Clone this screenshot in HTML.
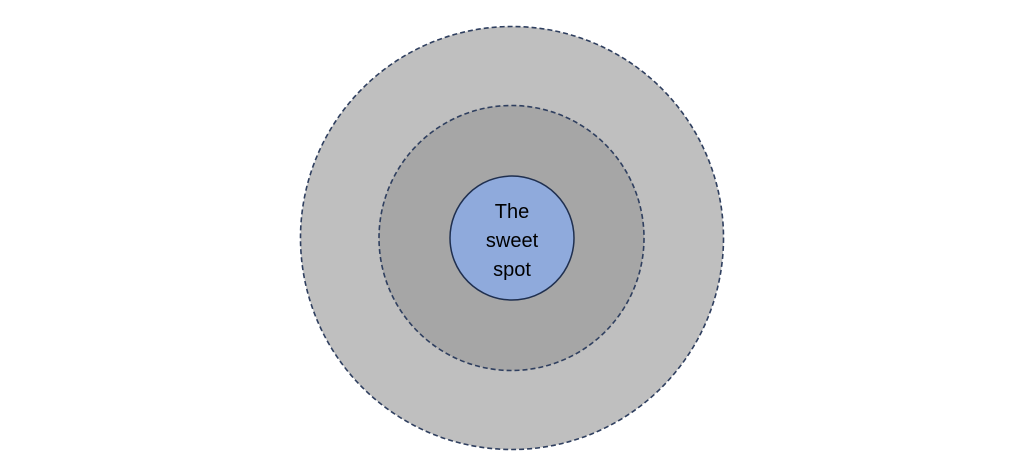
<!DOCTYPE html>
<html><head><style>html,body{margin:0;padding:0;background:#fff;width:1024px;height:473px;overflow:hidden}</style></head>
<body>
<svg width="1024" height="473" viewBox="0 0 1024 473" xmlns="http://www.w3.org/2000/svg">
<circle cx="512" cy="238" r="211.5" fill="#bfbfbf" stroke="#2f3f5f" stroke-width="1.6" stroke-dasharray="5,3"/>
<circle cx="511.5" cy="238" r="132.5" fill="#a6a6a6" stroke="#2f3f5f" stroke-width="1.6" stroke-dasharray="5,3"/>
<circle cx="512" cy="238" r="62" fill="#8faadc" stroke="#1f2f4f" stroke-width="1.5"/>
<g font-family="Liberation Sans, sans-serif" font-size="20" fill="#000" text-anchor="middle">
<text x="512" y="218">The</text>
<text x="512" y="247">sweet</text>
<text x="512" y="276">spot</text>
</g>
</svg>
</body></html>
